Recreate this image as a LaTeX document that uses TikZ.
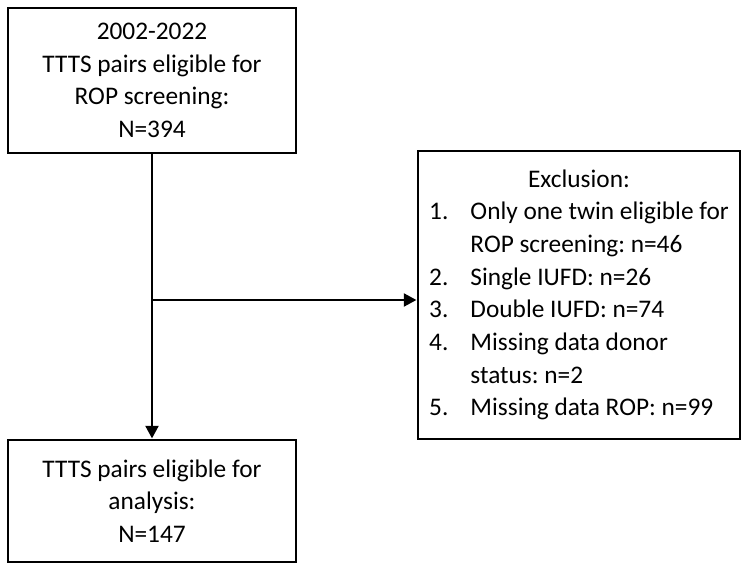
\documentclass[tikz,border=0pt]{standalone}
\usepackage{fontspec}
\setmainfont{Carlito}
\usetikzlibrary{arrows.meta}
\frenchspacing

\begin{document}
\begin{tikzpicture}[
    x=0.75pt,y=-0.75pt,
    every node/.style={font=\fontsize{19pt}{24.5pt}\selectfont},
    frame/.style={draw=black, line width=2.2pt, inner sep=0pt},
    stage/.style={frame, align=center, minimum width=216pt},
    flow/.style={-{Triangle[length=9.5pt,width=9.5pt]}, line width=2.2pt}
]
    \useasboundingbox (0,0) rectangle (742,564);

    \node[stage, minimum height=108.75pt] (cohort) at (152,80.5)
        {2002-2022\\TTTS pairs eligible for\\ROP screening:\\N=394};
    \node[stage, minimum height=91.5pt] (analysed) at (152,501)
        {TTTS pairs eligible for\\analysis:\\N=147};
    \node[frame, minimum width=241.5pt, minimum height=216pt] (exclusion) at (579,295) {%
        \begin{tabular}{@{}p{31pt}@{}l@{}}
            \multicolumn{2}{c}{Exclusion:}\\
            1. & Only one twin eligible for\\
               & ROP screening: n=46\\
            2. & Single IUFD: n=26\\
            3. & Double IUFD: n=74\\
            4. & Missing data donor\\
               & status: n=2\\
            5. & Missing data ROP: n=99
        \end{tabular}};

    \coordinate (split) at (152,300);
    \draw[flow] (cohort.south) -- (analysed.north);
    \draw[flow] (split) -- (split -| exclusion.west);
\end{tikzpicture}
\end{document}
